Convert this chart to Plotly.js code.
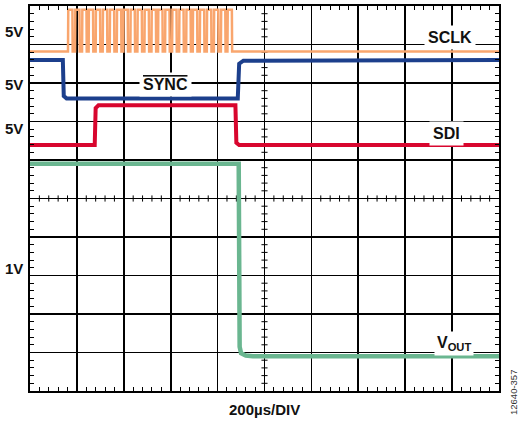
<!DOCTYPE html>
<html>
<head>
<meta charset="utf-8">
<script src="https://cdn.plot.ly/plotly-3.0.1.min.js"></script>
<style>html,body{margin:0;padding:0;background:#fff;}</style>
</head>
<body>
<div id="chart" style="width:519px;height:421px;"></div>
<script>
// Time axis in divisions (200 µs/DIV), vertical in screen divisions
const sclkLow = 8.82, sclkHigh = 9.9;
const sclkRise = [0.81, 0.96, 1.11, 1.25, 1.40, 1.55, 1.70, 1.85, 1.99, 2.14, 2.29, 2.44,
                  2.59, 2.73, 2.88, 3.03, 3.18, 3.33, 3.47, 3.62, 3.77, 3.92, 4.07, 4.21];
const sclkHighWidth = 0.10;

const syncX = [0, 0.70, 0.72, 0.78, 4.43, 4.46, 4.55, 10];
const syncY = [8.60, 8.60, 7.66, 7.60, 7.60, 8.50, 8.58, 8.60];

const sdiX = [0, 1.38, 1.40, 1.46, 4.38, 4.40, 4.46, 10];
const sdiY = [6.39, 6.39, 7.35, 7.42, 7.42, 6.45, 6.39, 6.39];

const voutX = [0, 4.45, 4.47, 4.50, 4.60, 4.75, 10];
const voutY = [5.90, 5.90, 1.15, 0.98, 0.92, 0.90, 0.90];

// build SCLK step waveform from edge list
const sclkX = [0], sclkY = [sclkLow];
sclkRise.forEach(r => {
  sclkX.push(r, r + 0.006, r + sclkHighWidth - 0.006, r + sclkHighWidth);
  sclkY.push(sclkLow, sclkHigh, sclkHigh, sclkLow);
});
sclkX.push(10); sclkY.push(sclkLow);

const traces = [
  {x: sclkX, y: sclkY, mode: 'lines', line: {color: '#F9A66E', width: 2.5}, hoverinfo: 'skip'},
  {x: syncX, y: syncY, mode: 'lines', line: {color: '#1C3F8C', width: 4}, hoverinfo: 'skip'},
  {x: sdiX, y: sdiY, mode: 'lines', line: {color: '#D8062E', width: 4}, hoverinfo: 'skip'},
  {x: voutX, y: voutY, mode: 'lines', line: {color: '#6AB690', width: 4.5}, hoverinfo: 'skip'}
];

// crosshair minor ticks
const shapes = [];
for (let i = 1; i < 50; i++) {
  const v = i * 0.2;
  if (i % 5 === 0) continue;
  shapes.push({type: 'line', xref: 'x', yref: 'y', x0: v, x1: v, y0: 5 - 0.08, y1: 5 + 0.08,
               line: {color: 'black', width: 1}, layer: 'below'});
  shapes.push({type: 'line', xref: 'x', yref: 'y', y0: v, y1: v, x0: 5 - 0.065, x1: 5 + 0.065,
               line: {color: 'black', width: 1}, layer: 'below'});
}

const lblFont = {family: 'Liberation Sans, Arial, sans-serif', size: 15, color: '#111'};
const sigFont = {family: 'Liberation Sans, Arial, sans-serif', size: 16, color: '#111'};
function lbl(text, x, y, extra) {
  return Object.assign({text: '<b>' + text + '</b>', x: x / 10, y: y / 10, xref: 'paper', yref: 'paper',
    showarrow: false, font: lblFont, xanchor: 'center', yanchor: 'middle'}, extra || {});
}
const annotations = [
  lbl('5V', -0.345, 9.33),
  lbl('5V', -0.345, 7.97),
  lbl('5V', -0.345, 6.83),
  lbl('1V', -0.345, 3.17),
  lbl('SCLK', 8.95, 9.17, {bgcolor: 'white', borderpad: 3, font: sigFont}),
  lbl('<span style="text-decoration:overline">SYNC</span>', 2.88, 7.95, {bgcolor: 'white', borderpad: 3, font: sigFont}),
  lbl('SDI', 8.87, 6.70, {bgcolor: 'white', borderpad: 3, font: sigFont}),
  lbl('V<sub>OUT</sub>', 9.04, 1.24, {bgcolor: 'white', borderpad: 2, font: sigFont}),
  lbl('200µs/DIV', 4.99, -0.47),
  {text: '12640-357', xref: 'paper', yref: 'paper', x: (513 - 30) / 469, y: (391 - 393) / 385,
   showarrow: false, textangle: -90, font: {family: 'Liberation Sans, Arial, sans-serif', size: 9.5, color: '#333'},
   xanchor: 'center', yanchor: 'middle'}
];

const axisCommon = {
  showgrid: true, gridcolor: '#000', gridwidth: 1.6, dtick: 1, tick0: 0,
  zeroline: false, showline: true, linecolor: 'black', linewidth: 2, mirror: 'ticks',
  ticks: 'inside', ticklen: 0, showticklabels: false, fixedrange: true,
  minor: {dtick: 0.2, tick0: 0, ticks: 'inside', ticklen: 4, tickwidth: 1, tickcolor: 'black', showgrid: false}
};

const layout = {
  width: 519, height: 421,
  margin: {l: 30, r: 20, t: 6, b: 30, pad: 0},
  paper_bgcolor: 'white', plot_bgcolor: 'white',
  showlegend: false,
  xaxis: Object.assign({range: [0, 10]}, axisCommon),
  yaxis: Object.assign({range: [0, 10]}, axisCommon),
  shapes: shapes,
  annotations: annotations
};

Plotly.newPlot('chart', traces, layout, {staticPlot: true, displayModeBar: false});
</script>
</body>
</html>
